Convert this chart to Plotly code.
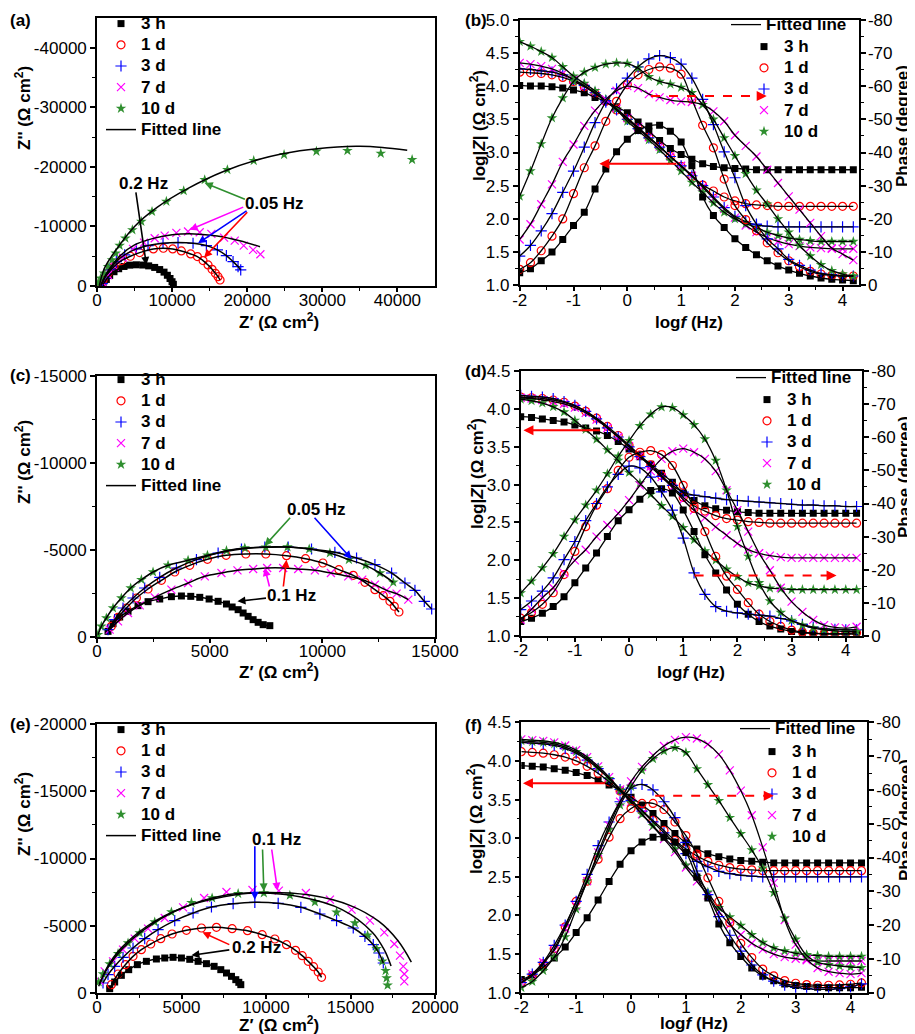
import plotly.graph_objects as go

FONT = "Liberation Sans, Arial, Helvetica, sans-serif"
SERIES = ["3 h", "1 d", "3 d", "7 d", "10 d"]

# frequency grid shared by Bode panels (log f, Hz)
LOGF = [-2.0, -1.8, -1.6, -1.4, -1.2, -1.0, -0.8, -0.6, -0.4, -0.2, 0.0, 0.2, 0.4, 0.6, 0.8, 1.0,
        1.2, 1.4, 1.6, 1.8, 2.0, 2.2, 2.4, 2.6, 2.8, 3.0, 3.2, 3.4, 3.6, 3.8, 4.0, 4.2]

# ---------------- (a) Nyquist ----------------
A_ZRE_3H = [799, 1243, 1687, 2264, 2886, 3596, 4351, 5239, 6127, 6881, 7680, 8346, 8924, 9368, 9723, 9989, 10166]
A_ZIM_3H = [-280, -1100, -1750, -2400, -2900, -3280, -3500, -3560, -3520, -3380, -3120, -2760, -2330, -1800, -1260, -720, -280]
A_ZRE_1D = [600, 799, 1465, 2264, 3241, 4439, 5683, 7503, 8835, 10078, 11232, 12475, 13363, 14118, 14784, 15316, 15760, 16115, 16382]
A_ZIM_1D = [-300, -1010, -2132, -3254, -4264, -4993, -5610, -6227, -6339, -6227, -5891, -5386, -4937, -4264, -3534, -2805, -2132, -1571, -1010]
A_ZRE_3D = [700, 1021, 1687, 2575, 3685, 5239, 6792, 8790, 10788, 12786, 14561, 16027, 17225, 18113, 18779, 19134]
A_ZIM_3D = [-400, -1403, -2693, -4095, -5217, -6227, -6788, -7181, -7293, -7181, -6788, -6059, -5105, -4095, -3254, -2693]
A_ZRE_7D = [800, 1465, 2353, 3463, 4795, 6260, 7680, 9012, 10566, 12120, 13674, 15228, 16915, 18335, 19534, 20777, 21754]
A_ZIM_7D = [-500, -1851, -3254, -4769, -6227, -7293, -8022, -8471, -8920, -9144, -9032, -8752, -8135, -7630, -6788, -6059, -5330]
A_ZRE_10D = [133, 488, 932, 1465, 1998, 2486, 3019, 3774, 4706, 5905, 7325, 9234, 11543, 14340, 17358, 20866, 24906, 29212, 33341, 37780, 41953]
A_ZIM_10D = [-449, -1290, -2132, -3254, -4376, -5498, -6788, -8022, -9425, -10827, -12510, -14194, -15989, -17840, -19523, -21038, -22048, -22609, -22721, -22272, -21206]
A_FIT_ZRE_7D = [500, 1500, 3000, 5000, 7500, 10000, 13000, 16000, 19000, 21700]
A_FIT_ZIM_7D = [0, -2600, -5000, -6900, -8000, -8600, -8750, -8400, -7600, -6600]
A_FIT_ZRE_10D = [300, 1000, 2500, 5000, 8000, 12000, 17000, 22000, 27000, 32000, 35000, 38000, 41300]
A_FIT_ZIM_10D = [0, -3000, -6000, -10000, -13200, -16300, -19300, -21400, -22700, -23350, -23450, -23250, -22800]

# ---------------- (c) Nyquist ----------------
C_ZRE_3H = [489, 711, 1007, 1377, 1821, 2265, 2784, 3302, 3746, 4161, 4561, 4975, 5375, 5745, 5997, 6263, 6485, 6707, 6929, 7151, 7374, 7670]
C_ZIM_3H = [-325, -765, -1148, -1473, -1799, -2028, -2181, -2315, -2354, -2334, -2277, -2181, -2048, -1894, -1722, -1569, -1378, -1186, -995, -842, -708, -651]
C_ZRE_1D = [637, 933, 1303, 1747, 2265, 2858, 3450, 4116, 4901, 5730, 6604, 7492, 8410, 9254, 10024, 10735, 11372, 11890, 12334, 12704, 13000, 13193, 13400]
C_ZIM_1D = [-612, -1129, -1665, -2239, -2756, -3253, -3732, -4114, -4459, -4688, -4765, -4765, -4669, -4497, -4248, -3865, -3540, -3138, -2717, -2373, -2047, -1761, -1435]
C_ZRE_3D = [489, 785, 1155, 1599, 2117, 2784, 3524, 4413, 5375, 6411, 7448, 8484, 9520, 10557, 11519, 12334, 13074, 13666, 14110, 14525, 14852]
C_ZIM_3D = [-421, -995, -1665, -2239, -2813, -3425, -3961, -4440, -4822, -5052, -5167, -5167, -5052, -4861, -4535, -4153, -3674, -3100, -2679, -2047, -1607]
C_ZRE_7D = [563, 933, 1377, 1895, 2562, 3302, 4042, 4783, 5523, 6234, 6930, 7552, 8262, 8929, 9669, 10380, 11150, 11772, 12334, 12852, 13296, 13814]
C_ZIM_7D = [-421, -899, -1378, -1818, -2277, -2717, -3100, -3483, -3674, -3827, -3904, -3961, -3961, -3904, -3827, -3674, -3483, -3291, -3004, -2679, -2488, -2143]
C_ZRE_10D = [44, 192, 415, 711, 1081, 1495, 1969, 2487, 3154, 4042, 4901, 5745, 6559, 7492, 8454, 9417, 10335, 11179, 11920, 12556, 13148]
C_ZIM_10D = [-134, -612, -1091, -1665, -2239, -2813, -3291, -3732, -4114, -4401, -4688, -4956, -5109, -5148, -5167, -5052, -4822, -4440, -4114, -3674, -3138]

# ---------------- (e) Nyquist ----------------
E_ZRE_3H = [750, 1046, 1441, 1876, 2389, 2922, 3514, 4008, 4501, 4995, 5489, 5982, 6476, 6930, 7325, 7661, 7957, 8213, 8391, 8509]
E_ZIM_3H = [-322, -818, -1313, -1735, -2107, -2354, -2528, -2602, -2652, -2602, -2503, -2354, -2181, -1983, -1735, -1487, -1239, -991, -793, -620]
E_ZRE_1D = [849, 1244, 1678, 2132, 2626, 3179, 3771, 4442, 5291, 6180, 7068, 7996, 8904, 9773, 10523, 11214, 11747, 12142, 12497, 12813, 13090, 13288]
E_ZIM_1D = [-620, -1413, -2107, -2726, -3222, -3643, -4040, -4387, -4660, -4833, -4882, -4783, -4634, -4337, -4015, -3593, -3172, -2776, -2354, -1958, -1561, -1165]
E_ZRE_3D = [355, 652, 1046, 1540, 2132, 2823, 3613, 4600, 5686, 6772, 8055, 9339, 10721, 12063, 13189, 14176, 15163, 15854, 16348, 16683, 16940]
E_ZIM_3D = [-743, -1363, -1983, -2652, -3346, -4040, -4709, -5378, -5948, -6394, -6642, -6741, -6666, -6369, -5874, -5378, -4833, -4213, -3594, -2974, -2230]
E_ZRE_7D = [158, 454, 948, 1540, 2231, 3021, 4008, 5094, 6338, 7661, 9201, 10761, 12360, 13782, 15065, 16151, 16999, 17591, 17927, 18124, 18183, 18183]
E_ZIM_7D = [-917, -1611, -2354, -3222, -4040, -4783, -5576, -6369, -7063, -7509, -7658, -7608, -7435, -6939, -6196, -5378, -4511, -3643, -2776, -1983, -1413, -867]
E_ZRE_10D = [99, 355, 750, 1244, 1836, 2527, 3416, 4403, 5588, 6812, 8352, 9872, 11412, 12893, 14176, 15262, 16012, 16545, 16881, 17078, 17137, 17196]
E_ZIM_10D = [-818, -1413, -2156, -2924, -3717, -4461, -5279, -6022, -6716, -7063, -7385, -7435, -7261, -6766, -5998, -5205, -4288, -3296, -2354, -1661, -1115, -570]
E_FIT_ZRE_7D = [150, 700, 1500, 3000, 5000, 7500, 10000, 12500, 15000, 16700, 17800, 18600]
E_FIT_ZIM_7D = [-700, -2000, -3300, -4900, -6300, -7250, -7480, -7300, -6500, -5300, -3900, -2300]
E_FIT_ZRE_10D = [100, 600, 1400, 3000, 5000, 7500, 9500, 12000, 14500, 16300, 17000, 17400]
E_FIT_ZIM_10D = [-500, -1900, -3300, -5000, -6300, -7150, -7430, -7150, -6200, -4500, -3200, -2000]

# ---------------- (b) Bode: log|Z| and phase (degree) ----------------
B_Z_3H = [4.01, 4.00, 4.00, 3.99, 3.97, 3.94, 3.90, 3.83, 3.77, 3.69, 3.60, 3.46, 3.32, 3.18, 3.06, 2.97, 2.90, 2.83, 2.79, 2.77, 2.76, 2.75, 2.74, 2.74, 2.74, 2.74, 2.74, 2.74, 2.74, 2.74, 2.74, 2.74]
B_P_3H = [-3.8, -5.0, -7.4, -10.0, -13.8, -18.0, -22.0, -29.0, -35.0, -40.2, -44.0, -46.6, -48.0, -48.2, -46.4, -43.2, -36.0, -26.6, -21.0, -17.4, -14.0, -11.4, -9.2, -7.4, -5.8, -4.6, -3.6, -2.8, -2.2, -1.8, -1.6, -1.4]
B_Z_1D = [4.21, 4.20, 4.19, 4.17, 4.13, 4.07, 3.99, 3.89, 3.77, 3.64, 3.51, 3.37, 3.23, 3.09, 2.94, 2.79, 2.64, 2.51, 2.42, 2.33, 2.27, 2.23, 2.21, 2.20, 2.19, 2.19, 2.19, 2.19, 2.19, 2.19, 2.19, 2.19]
B_P_1D = [-4.8, -6.8, -10.4, -14.8, -20.0, -27.6, -35.4, -42.0, -49.4, -55.4, -60.4, -63.4, -65.0, -65.8, -65.4, -63.6, -56.0, -48.2, -41.4, -32.0, -24.0, -19.8, -16.4, -12.8, -9.8, -7.4, -5.6, -4.2, -3.4, -3.0, -2.8, -2.8]
B_Z_3D = [4.26, 4.25, 4.23, 4.21, 4.17, 4.10, 4.01, 3.90, 3.78, 3.64, 3.50, 3.36, 3.22, 3.08, 2.94, 2.80, 2.65, 2.50, 2.33, 2.17, 2.04, 1.96, 1.91, 1.89, 1.88, 1.88, 1.88, 1.88, 1.88, 1.88, 1.88, 1.88]
B_P_3D = [-8.8, -12.0, -16.4, -21.6, -28.0, -34.4, -41.6, -49.0, -55.2, -59.2, -62.4, -65.8, -68.2, -69.2, -68.6, -66.6, -62.4, -56.0, -48.4, -40.2, -32.4, -24.0, -18.4, -14.0, -11.0, -7.8, -6.0, -4.6, -3.6, -3.2, -2.8, -2.8]
B_Z_7D = [4.35, 4.33, 4.30, 4.26, 4.19, 4.10, 4.00, 3.90, 3.78, 3.66, 3.52, 3.38, 3.23, 3.09, 2.94, 2.80, 2.65, 2.48, 2.31, 2.15, 2.02, 1.90, 1.80, 1.72, 1.66, 1.62, 1.59, 1.57, 1.56, 1.55, 1.55, 1.55]
B_P_7D = [-13.8, -18.4, -24.4, -30.4, -37.2, -42.4, -48.0, -52.6, -56.0, -58.6, -60.0, -59.4, -57.6, -56.6, -55.8, -55.4, -55.2, -54.4, -52.4, -49.4, -45.2, -42.0, -38.8, -34.8, -30.8, -26.8, -22.8, -18.8, -14.8, -11.2, -9.4, -7.6]
B_Z_10D = [4.67, 4.60, 4.52, 4.43, 4.29, 4.15, 4.04, 3.93, 3.80, 3.65, 3.47, 3.33, 3.19, 3.04, 2.88, 2.72, 2.55, 2.40, 2.24, 2.10, 2.00, 1.93, 1.87, 1.80, 1.75, 1.71, 1.69, 1.67, 1.66, 1.66, 1.66, 1.66]
B_P_10D = [-26.8, -34.4, -42.6, -50.4, -56.4, -61.4, -64.2, -65.6, -66.6, -67.0, -66.8, -65.4, -62.8, -61.4, -60.6, -59.6, -58.0, -54.4, -50.0, -44.4, -39.0, -33.6, -28.6, -24.4, -20.0, -16.0, -12.0, -8.8, -6.2, -4.4, -3.4, -2.8]

# ---------------- (d) Bode ----------------
D_Z_3H = [3.90, 3.89, 3.87, 3.85, 3.83, 3.79, 3.75, 3.71, 3.65, 3.57, 3.47, 3.37, 3.27, 3.15, 3.03, 2.89, 2.79, 2.72, 2.68, 2.66, 2.64, 2.63, 2.62, 2.62, 2.62, 2.62, 2.62, 2.62, 2.62, 2.62, 2.62, 2.62]
D_P_3H = [-4.3, -5.3, -6.8, -8.8, -11.8, -16.0, -20.5, -25.0, -30.0, -34.8, -38.1, -41.3, -43.9, -44.5, -43.2, -38.0, -31.5, -24.5, -19.0, -13.8, -9.5, -6.5, -4.3, -2.9, -2.0, -1.3, -0.9, -0.7, -0.6, -0.5, -0.5, -0.5]
D_Z_1D = [4.16, 4.15, 4.14, 4.12, 4.09, 4.04, 3.97, 3.88, 3.77, 3.65, 3.52, 3.39, 3.26, 3.12, 2.98, 2.83, 2.72, 2.65, 2.59, 2.55, 2.53, 2.51, 2.50, 2.49, 2.49, 2.49, 2.49, 2.49, 2.49, 2.49, 2.49, 2.49]
D_P_1D = [-5.3, -7.0, -9.5, -13.0, -18.5, -25.5, -33.0, -39.5, -44.5, -50.0, -54.0, -55.5, -56.0, -54.8, -51.5, -45.5, -38.5, -31.5, -24.0, -18.0, -14.0, -10.0, -6.5, -4.3, -2.8, -1.7, -1.1, -0.8, -0.6, -0.6, -0.7, -0.9]
D_Z_3D = [4.18, 4.17, 4.16, 4.14, 4.10, 4.05, 3.97, 3.87, 3.75, 3.63, 3.50, 3.37, 3.24, 3.11, 2.99, 2.90, 2.86, 2.84, 2.82, 2.80, 2.79, 2.78, 2.77, 2.76, 2.75, 2.74, 2.73, 2.73, 2.72, 2.72, 2.71, 2.71]
D_P_3D = [-7.9, -10.5, -13.5, -17.5, -23.0, -28.5, -34.8, -40.0, -45.0, -48.8, -51.3, -50.8, -48.0, -43.5, -38.0, -29.5, -19.0, -12.5, -8.8, -7.4, -6.9, -6.5, -6.2, -5.9, -5.2, -4.5, -3.4, -2.6, -2.1, -1.9, -1.8, -1.8]
D_Z_7D = [4.15, 4.14, 4.12, 4.10, 4.07, 4.02, 3.95, 3.86, 3.75, 3.63, 3.51, 3.38, 3.24, 3.10, 2.96, 2.80, 2.66, 2.56, 2.44, 2.33, 2.22, 2.14, 2.09, 2.06, 2.04, 2.03, 2.03, 2.03, 2.03, 2.03, 2.03, 2.03]
D_P_7D = [-4.8, -8.0, -11.5, -14.5, -19.0, -22.8, -26.0, -30.0, -33.5, -37.0, -41.0, -45.5, -49.8, -53.5, -55.8, -56.6, -55.5, -53.5, -49.8, -44.0, -38.0, -31.5, -25.0, -19.8, -14.5, -10.3, -7.2, -4.8, -3.2, -2.5, -2.3, -2.7]
D_Z_10D = [4.13, 4.11, 4.08, 4.03, 3.96, 3.85, 3.73, 3.60, 3.46, 3.32, 3.16, 3.02, 2.87, 2.72, 2.58, 2.43, 2.27, 2.12, 2.00, 1.88, 1.78, 1.70, 1.66, 1.63, 1.62, 1.61, 1.61, 1.61, 1.61, 1.61, 1.61, 1.61]
D_P_10D = [-12.9, -16.5, -20.5, -24.8, -30.0, -35.0, -39.5, -44.0, -49.0, -54.3, -59.0, -63.5, -67.0, -69.2, -69.0, -66.8, -63.8, -59.5, -53.0, -44.0, -33.0, -24.0, -16.0, -10.5, -7.0, -4.6, -3.2, -2.3, -1.8, -1.5, -1.3, -1.3]

# ---------------- (f) Bode ----------------
F_Z_3H = [3.94, 3.93, 3.92, 3.90, 3.88, 3.85, 3.81, 3.75, 3.69, 3.62, 3.53, 3.43, 3.32, 3.19, 3.06, 2.94, 2.86, 2.80, 2.76, 2.73, 2.71, 2.70, 2.69, 2.68, 2.68, 2.68, 2.68, 2.68, 2.68, 2.68, 2.68, 2.68]
F_P_3H = [-3.9, -5.2, -7.5, -10.3, -13.5, -17.8, -22.2, -27.4, -32.9, -38.0, -42.0, -44.6, -46.0, -46.0, -44.5, -41.5, -34.2, -28.0, -20.3, -14.8, -10.7, -7.3, -4.9, -3.5, -2.6, -2.1, -1.8, -1.6, -1.5, -1.5, -1.5, -1.6]
F_Z_1D = [4.12, 4.11, 4.10, 4.08, 4.05, 4.00, 3.93, 3.84, 3.73, 3.61, 3.49, 3.36, 3.23, 3.10, 2.97, 2.86, 2.77, 2.70, 2.65, 2.62, 2.60, 2.59, 2.58, 2.58, 2.58, 2.58, 2.58, 2.58, 2.58, 2.58, 2.58, 2.58]
F_P_1D = [-3.0, -5.0, -8.5, -13.0, -19.5, -27.0, -33.0, -39.5, -46.0, -51.5, -54.5, -56.0, -56.0, -54.2, -50.5, -46.5, -41.0, -34.0, -27.0, -20.7, -14.6, -10.4, -7.0, -5.0, -3.6, -2.8, -2.4, -2.2, -2.2, -2.3, -2.5, -2.9]
F_Z_3D = [4.24, 4.23, 4.22, 4.20, 4.16, 4.10, 4.01, 3.90, 3.77, 3.63, 3.49, 3.35, 3.21, 3.07, 2.93, 2.80, 2.70, 2.63, 2.57, 2.54, 2.52, 2.51, 2.50, 2.50, 2.50, 2.50, 2.50, 2.50, 2.50, 2.50, 2.50, 2.50]
F_P_3D = [-3.0, -5.5, -9.0, -14.0, -20.0, -27.0, -35.0, -43.5, -50.5, -56.5, -60.5, -61.6, -60.0, -56.5, -51.8, -44.5, -36.0, -29.0, -22.5, -17.0, -12.3, -8.2, -5.3, -3.4, -2.2, -1.6, -1.2, -1.0, -1.0, -1.2, -1.7, -2.6]
F_Z_7D = [4.28, 4.27, 4.26, 4.24, 4.20, 4.14, 4.05, 3.93, 3.79, 3.63, 3.47, 3.31, 3.15, 2.99, 2.82, 2.62, 2.44, 2.26, 2.05, 1.88, 1.75, 1.64, 1.56, 1.50, 1.46, 1.44, 1.42, 1.41, 1.41, 1.41, 1.41, 1.41]
F_P_7D = [-3.0, -5.5, -9.0, -12.5, -19.0, -25.6, -33.0, -41.5, -49.5, -56.5, -62.5, -66.8, -70.2, -73.0, -74.8, -75.6, -75.2, -73.5, -70.5, -65.8, -59.8, -52.5, -43.0, -32.5, -21.5, -14.2, -9.9, -7.3, -6.2, -5.8, -5.5, -5.8]
F_Z_10D = [4.26, 4.25, 4.24, 4.22, 4.18, 4.12, 4.03, 3.91, 3.77, 3.62, 3.46, 3.31, 3.16, 3.01, 2.86, 2.65, 2.50, 2.30, 2.10, 1.98, 1.87, 1.75, 1.65, 1.58, 1.54, 1.51, 1.49, 1.48, 1.47, 1.47, 1.47, 1.47]
F_P_10D = [-1.5, -3.3, -6.5, -10.5, -16.5, -24.7, -33.0, -40.8, -48.3, -55.5, -61.0, -65.8, -69.2, -71.5, -72.5, -71.0, -66.2, -61.5, -56.8, -51.8, -47.0, -42.2, -36.8, -29.6, -22.0, -15.8, -11.0, -9.0, -8.3, -7.9, -7.6, -7.4]

# ---------------- styles ----------------
STYLE = {
    "3 h": dict(symbol="square", color="#000000", size=7, lw=0),
    "1 d": dict(symbol="circle-open", color="#ff0000", size=8, lw=1.2),
    "3 d": dict(symbol="cross-thin-open", color="#0000ff", size=8, lw=1.2),
    "7 d": dict(symbol="x-thin-open", color="#ff00ff", size=8, lw=1.2),
    "10 d": dict(symbol="star", color="#2f8f2f", size=8, lw=0),
}

def mk(s):
    st = STYLE[s]
    return dict(symbol=st["symbol"], color=st["color"], size=st["size"],
                line=dict(color=st["color"], width=st["lw"]))

def lname(t):
    return "<span style='font-size:17px'><b>%s</b></span>" % t

fig = go.Figure()

# ---- Nyquist panels ----
NYQ = [
    dict(xa="x", ya="y", leg="legend",
         data={"3 h": (A_ZRE_3H, A_ZIM_3H), "1 d": (A_ZRE_1D, A_ZIM_1D), "3 d": (A_ZRE_3D, A_ZIM_3D),
               "7 d": (A_ZRE_7D, A_ZIM_7D), "10 d": (A_ZRE_10D, A_ZIM_10D)},
         fit={"7 d": (A_FIT_ZRE_7D, A_FIT_ZIM_7D), "10 d": (A_FIT_ZRE_10D, A_FIT_ZIM_10D)}),
    dict(xa="x3", ya="y4", leg="legend3",
         data={"3 h": (C_ZRE_3H, C_ZIM_3H), "1 d": (C_ZRE_1D, C_ZIM_1D), "3 d": (C_ZRE_3D, C_ZIM_3D),
               "7 d": (C_ZRE_7D, C_ZIM_7D), "10 d": (C_ZRE_10D, C_ZIM_10D)},
         fit={}),
    dict(xa="x5", ya="y7", leg="legend5",
         data={"3 h": (E_ZRE_3H, E_ZIM_3H), "1 d": (E_ZRE_1D, E_ZIM_1D), "3 d": (E_ZRE_3D, E_ZIM_3D),
               "7 d": (E_ZRE_7D, E_ZIM_7D), "10 d": (E_ZRE_10D, E_ZIM_10D)},
         fit={"7 d": (E_FIT_ZRE_7D, E_FIT_ZIM_7D), "10 d": (E_FIT_ZRE_10D, E_FIT_ZIM_10D)}),
]
for p in NYQ:
    for i, s in enumerate(SERIES):
        zr, zi = p["data"][s]
        fig.add_trace(go.Scatter(x=zr, y=zi, mode="markers", marker=mk(s), name=lname(s),
                                 xaxis=p["xa"], yaxis=p["ya"], legend=p["leg"], legendrank=10 + i,
                                 showlegend=True))
    for i, s in enumerate(SERIES):
        zr, zi = p["fit"].get(s, p["data"][s])
        fig.add_trace(go.Scatter(x=zr, y=zi, mode="lines", line=dict(color="black", width=1.5, shape="spline"),
                                 name=lname("Fitted line"), xaxis=p["xa"], yaxis=p["ya"], legend=p["leg"],
                                 legendrank=20, showlegend=(i == 0)))

# ---- Bode panels ----
BODE = [
    dict(xa="x2", yz="y2", yp="y3", legf="legend2", legm="legend7",
         z={"3 h": B_Z_3H, "1 d": B_Z_1D, "3 d": B_Z_3D, "7 d": B_Z_7D, "10 d": B_Z_10D},
         p={"3 h": B_P_3H, "1 d": B_P_1D, "3 d": B_P_3D, "7 d": B_P_7D, "10 d": B_P_10D}),
    dict(xa="x4", yz="y5", yp="y6", legf="legend4", legm="legend8",
         z={"3 h": D_Z_3H, "1 d": D_Z_1D, "3 d": D_Z_3D, "7 d": D_Z_7D, "10 d": D_Z_10D},
         p={"3 h": D_P_3H, "1 d": D_P_1D, "3 d": D_P_3D, "7 d": D_P_7D, "10 d": D_P_10D}),
    dict(xa="x6", yz="y8", yp="y9", legf="legend6", legm="legend9",
         z={"3 h": F_Z_3H, "1 d": F_Z_1D, "3 d": F_Z_3D, "7 d": F_Z_7D, "10 d": F_Z_10D},
         p={"3 h": F_P_3H, "1 d": F_P_1D, "3 d": F_P_3D, "7 d": F_P_7D, "10 d": F_P_10D}),
]
for p in BODE:
    for i, s in enumerate(SERIES):
        fig.add_trace(go.Scatter(x=LOGF, y=p["z"][s], mode="markers", marker=mk(s), name=lname(s),
                                 xaxis=p["xa"], yaxis=p["yz"], legend=p["legm"], legendrank=10 + i,
                                 showlegend=True))
        fig.add_trace(go.Scatter(x=LOGF, y=p["p"][s], mode="markers", marker=mk(s), name=lname(s),
                                 xaxis=p["xa"], yaxis=p["yp"], legend=p["legm"], showlegend=False))
    for i, s in enumerate(SERIES):
        fig.add_trace(go.Scatter(x=LOGF, y=p["z"][s], mode="lines", line=dict(color="black", width=1.3, shape="spline"),
                                 name=lname("Fitted line"), xaxis=p["xa"], yaxis=p["yz"], legend=p["legf"],
                                 legendrank=1, showlegend=(i == 0)))
        fig.add_trace(go.Scatter(x=LOGF, y=p["p"][s], mode="lines", line=dict(color="black", width=1.3, shape="spline"),
                                 name=lname("Fitted line"), xaxis=p["xa"], yaxis=p["yp"], legend=p["legf"],
                                 showlegend=False))

# ---------------- axes ----------------
TF = dict(family=FONT, size=17, color="black")

def axis(rng, tickvals, ticktext, minor_vals, anchor, domain=None, side=None,
         overlaying=None, mirror=True, standoff=0, ticklen=5):
    d = dict(range=rng, tickmode="array", tickvals=tickvals, ticktext=ticktext,
             ticks="outside", ticklen=ticklen, tickwidth=1.5, tickcolor="black",
             showline=True, linecolor="black", linewidth=1.6, mirror=mirror,
             showgrid=False, zeroline=False, anchor=anchor, tickfont=TF,
             ticklabelstandoff=standoff,
             minor=dict(tickmode="array", tickvals=minor_vals, ticks="outside", ticklen=3,
                        tickwidth=1.2, tickcolor="black", showgrid=False),
             automargin=False, fixedrange=True)
    if domain is not None:
        d["domain"] = domain
    if side:
        d["side"] = side
    if overlaying:
        d["overlaying"] = overlaying
    return d

W, H = 915.0, 1034.0
def dx(a, b): return [a / W, b / W]
def dy(top, bot): return [1 - bot / H, 1 - top / H]

def lin(vals): return [str(v) for v in vals]

xa_t = [0, 10000, 20000, 30000, 40000]
ya_t = [0, -10000, -20000, -30000, -40000]
xc_t = [0, 5000, 10000, 15000]
yc_t = [0, -5000, -10000, -15000]
xe_t = [0, 5000, 10000, 15000, 20000]
ye_t = [0, -5000, -10000, -15000, -20000]
bx_t = [-2, -1, 0, 1, 2, 3, 4]
bx_m = [-1.5, -0.5, 0.5, 1.5, 2.5, 3.5]
bz5 = [1.0, 1.5, 2.0, 2.5, 3.0, 3.5, 4.0, 4.5, 5.0]
bz45 = [1.0, 1.5, 2.0, 2.5, 3.0, 3.5, 4.0, 4.5]
ph_t = [0, -10, -20, -30, -40, -50, -60, -70, -80]
ph_m = [-5, -15, -25, -35, -45, -55, -65, -75]

XS, YS, PS, XL = -6, 0, -1, 4
fig.update_layout(
    xaxis=axis([0, 45000], xa_t, lin(xa_t), [5000, 15000, 25000, 35000], "y", domain=dx(89, 427), standoff=XS, ticklen=XL),
    yaxis=axis([0, -45000], ya_t, lin(ya_t), [-5000, -15000, -25000, -35000], "x", domain=dy(10, 278), standoff=YS),
    xaxis2=axis([-2, 4.3], bx_t, lin(bx_t), bx_m, "y2", domain=dx(511.7, 850.7), standoff=XS, ticklen=XL),
    yaxis2=axis([1, 5], bz5, ["%.1f" % v for v in bz5], [1.25 + 0.5 * k for k in range(8)], "x2",
                domain=dy(11.7, 277.3), standoff=YS),
    yaxis3=axis([0, -80], ph_t, lin(ph_t), ph_m, "x2", side="right", overlaying="y2", mirror=False, standoff=PS),
    xaxis3=axis([0, 15000], xc_t, lin(xc_t), [2500, 7500, 12500], "y4", domain=dx(89, 427), standoff=XS, ticklen=XL),
    yaxis4=axis([0, -15000], yc_t, lin(yc_t), [-2500, -7500, -12500], "x3", domain=dy(367.7, 629), standoff=YS),
    xaxis4=axis([-2, 4.3], bx_t, lin(bx_t), bx_m, "y5", domain=dx(512.7, 854), standoff=XS, ticklen=XL),
    yaxis5=axis([1, 4.5], bz45, ["%.1f" % v for v in bz45], [1.25 + 0.5 * k for k in range(7)], "x4",
                domain=dy(363.3, 627.7), standoff=YS),
    yaxis6=axis([0, -80], ph_t, lin(ph_t), ph_m, "x4", side="right", overlaying="y5", mirror=False, standoff=PS),
    xaxis5=axis([0, 20000], xe_t, lin(xe_t), [2500, 7500, 12500, 17500], "y7", domain=dx(89, 427), standoff=XS, ticklen=XL),
    yaxis7=axis([0, -20000], ye_t, lin(ye_t), [-2500, -7500, -12500, -17500], "x5", domain=dy(716, 985), standoff=YS),
    xaxis6=axis([-2, 4.3], bx_t, lin(bx_t), bx_m, "y8", domain=dx(513.3, 859), standoff=XS, ticklen=XL),
    yaxis8=axis([1, 4.5], bz45, ["%.1f" % v for v in bz45], [1.25 + 0.5 * k for k in range(7)], "x6",
                domain=dy(714.3, 984.7), standoff=YS),
    yaxis9=axis([0, -80], ph_t, lin(ph_t), ph_m, "x6", side="right", overlaying="y8", mirror=False, standoff=PS),
)

LEGF = dict(family=FONT, size=14, color="black")
def leg(x, y, xanchor):
    return dict(x=x, y=y, xanchor=xanchor, yanchor="top", xref="paper", yref="paper",
                bgcolor="rgba(0,0,0,0)", borderwidth=0, font=LEGF, itemwidth=30,
                tracegroupgap=0, itemclick=False, itemdoubleclick=False)

fig.update_layout(
    width=915, height=1034, margin=dict(l=0, r=0, t=0, b=0),
    paper_bgcolor="white", plot_bgcolor="white",
    font=dict(family=FONT, size=17, color="black"),
    showlegend=True,
    legend=leg(93 / W, 1 - 0 / H, "left"),
    legend3=leg(93 / W, 1 - 356 / H, "left"),
    legend5=leg(93 / W, 1 - 706 / H, "left"),
    legend2=leg(844 / W, 1 - 1 / H, "right"),
    legend7=leg(736 / W, 1 - 23 / H, "left"),
    legend4=leg(849 / W, 1 - 354 / H, "right"),
    legend8=leg(739 / W, 1 - 376 / H, "left"),
    legend6=leg(853 / W, 1 - 705 / H, "right"),
    legend9=leg(744 / W, 1 - 728 / H, "left"),
)

# ---------------- annotations ----------------
ann = []
def arrow(xr, yr, x, y, ax, ay, color, width=1.6):
    return dict(xref=xr, yref=yr, axref=xr, ayref=yr, x=x, y=y, ax=ax, ay=ay, text="",
                showarrow=True, arrowhead=2, arrowsize=1, arrowwidth=width, arrowcolor=color)

def label(xr, yr, x, y, text):
    return dict(xref=xr, yref=yr, x=x, y=y, text="<b>%s</b>" % text, showarrow=False, font=TF,
                xanchor="center", yanchor="middle")

def ptext(px, py, text, angle=0, anchor="center"):
    return dict(xref="paper", yref="paper", x=px / W, y=1 - py / H, text=text, showarrow=False,
                font=TF, xanchor=anchor, yanchor="middle", textangle=angle)

# panel letters
for t, px, py in [("(a)", 0, 12), ("(b)", 455, 12), ("(c)", 0, 368), ("(d)", 455, 363), ("(e)", 0, 716), ("(f)", 455, 717)]:
    ann.append(ptext(px, py, "<b>%s</b>" % t, anchor="left"))

ZT = "<b>Z′ (Ω cm<sup>2</sup>)</b>"
ZIT = "<b>Z'' (Ω cm<sup>2</sup>)</b>"
LZT = "<b>log|<i>Z</i>| (Ω cm<sup>2</sup>)</b>"
LFT = "<b>log<i>f</i> (Hz)</b>"
PT = "<b>Phase (degree)</b>"

# axis titles
ann += [
    ptext(271, 313, ZT), ptext(15, 100, ZIT, -90),
    ptext(271, 663, ZT), ptext(15, 454, ZIT, -90),
    ptext(271, 1016, ZT), ptext(15, 806, ZIT, -90),
    ptext(681, 314, LFT), ptext(470, 118, LZT, -90), ptext(894, 118, PT, -90),
    ptext(683, 664, LFT), ptext(468, 465, LZT, -90), ptext(896, 469, PT, -90),
    ptext(686, 1016, LFT), ptext(467, 810, LZT, -90), ptext(897, 812, PT, -90),
]

# (a)
ann += [
    label("x", "y", 6127, -17167, "0.2 Hz"),
    arrow("x", "y", 6570, -3534, 5150, -15989, "black"),
    label("x", "y", 23663, -13913, "0.05 Hz"),
    arrow("x", "y", 14340, -17279, 19889, -14474, "#2f8f2f"),
    arrow("x", "y", 12342, -9425, 19667, -13352, "#ff00ff"),
    arrow("x", "y", 13452, -7181, 20111, -12791, "#0000ff"),
    arrow("x", "y", 14251, -4769, 20200, -12623, "#ff0000"),
]
# (c)
ann += [
    label("x3", "y4", 9742, -7310, "0.05 Hz"),
    arrow("x3", "y4", 7447, -5243, 8632, -6927, "#2f8f2f"),
    arrow("x3", "y4", 11297, -4478, 9594, -6927, "#0000ff"),
    label("x3", "y4", 8632, -2373, "0.1 Hz"),
    arrow("x3", "y4", 7447, -3961, 7670, -2813, "#ff00ff"),
    arrow("x3", "y4", 8410, -4440, 8262, -2813, "#ff0000"),
    arrow("x3", "y4", 6233, -2048, 7566, -2239, "black"),
]
# (e)
ann += [
    label("x5", "y7", 10622, -11400, "0.1 Hz"),
    arrow("x5", "y7", 9339, -6940, 9339, -11028, "#0000ff"),
    arrow("x5", "y7", 9872, -7559, 9793, -10781, "#2f8f2f"),
    arrow("x5", "y7", 10681, -7608, 10326, -10781, "#ff00ff"),
    label("x5", "y7", 9437, -3395, "0.2 Hz"),
    arrow("x5", "y7", 6239, -4511, 7917, -3544, "#ff0000"),
    arrow("x5", "y7", 5588, -2801, 7917, -3222, "black"),
]
# Bode solid arrows toward log|Z| axis
ann += [
    arrow("x2", "y2", -0.52, 2.83, 0.94, 2.83, "#ff0000", 2),
    arrow("x4", "y5", -1.95, 3.72, -0.51, 3.72, "#ff0000", 2),
    arrow("x6", "y8", -1.97, 3.71, -0.45, 3.71, "#ff0000", 2),
]
# Bode dashed arrows toward phase axis (heads)
ann += [
    arrow("x2", "y3", 2.59, -57, 2.4, -57, "#ff0000", 2),
    arrow("x4", "y6", 3.83, -18.2, 3.64, -18.2, "#ff0000", 2),
    arrow("x6", "y9", 2.6, -58.3, 2.4, -58.3, "#ff0000", 2),
]
shapes = [
    dict(type="line", xref="x2", yref="y3", x0=0.44, x1=2.45, y0=-57, y1=-57,
         line=dict(color="#ff0000", width=2, dash="dash")),
    dict(type="line", xref="x4", yref="y6", x0=1.21, x1=3.68, y0=-18.2, y1=-18.2,
         line=dict(color="#ff0000", width=2, dash="dash")),
    dict(type="line", xref="x6", yref="y9", x0=0.44, x1=2.45, y0=-58.3, y1=-58.3,
         line=dict(color="#ff0000", width=2, dash="dash")),
]
fig.update_layout(annotations=ann, shapes=shapes)

fig.write_html("out.html")
